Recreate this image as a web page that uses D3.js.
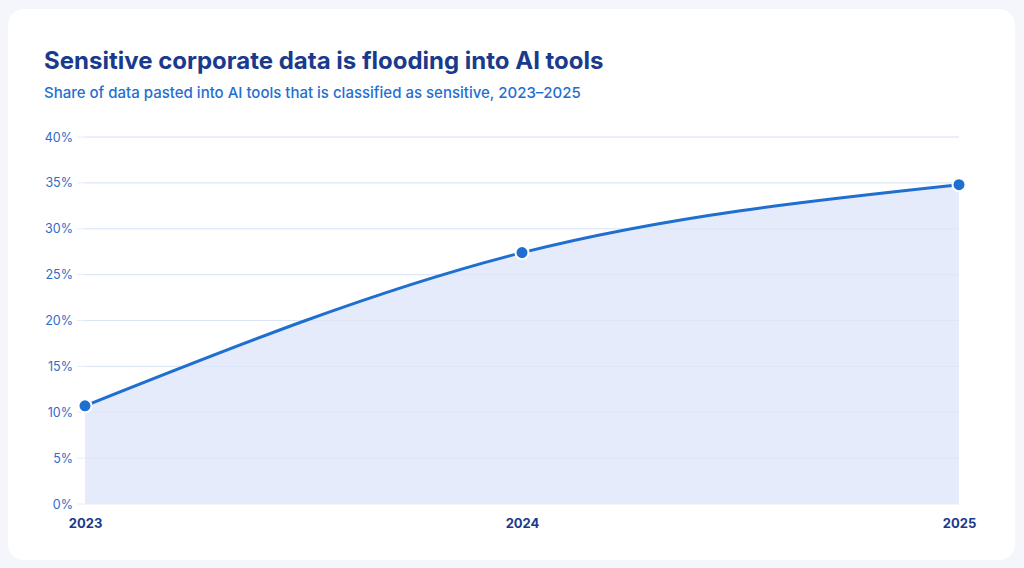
<!DOCTYPE html>
<html><head><meta charset="utf-8">
<script src="https://cdn.jsdelivr.net/npm/d3@7/dist/d3.min.js"></script>
<style>
html,body{margin:0;padding:0;background:#f4f6fb;font-family:Inter,"Noto Sans",sans-serif;}
svg{display:block;}
</style></head><body>
<svg id="c" width="1024" height="568"></svg>
<script>
const years = ["2023","2024","2025"];
const sensitiveShare = [10.7, 27.4, 34.8];
const yTicks = [0,5,10,15,20,25,30,35,40];
const title = "Sensitive corporate data is flooding into AI tools";
const subtitle = "Share of data pasted into AI tools that is classified as sensitive, 2023–2025";

const svg = d3.select("#c");
svg.append("rect").attr("x",8).attr("y",9).attr("width",1007).attr("height",551).attr("rx",16).attr("fill","#ffffff");

svg.append("text").attr("x",44).attr("y",69).text(title)
  .attr("font-size",24).attr("font-weight",700).attr("fill","#1a3a8c");
svg.append("text").attr("x",44).attr("y",98).text(subtitle)
  .attr("font-size",15).attr("font-weight",500).attr("fill","#1f6fd1");

const x = d3.scalePoint().domain(years).range([85,959]);
const y = d3.scaleLinear().domain([0,40]).range([504,137]);

const grid = svg.append("g");
grid.selectAll("line").data(yTicks).join("line")
  .attr("x1",77).attr("x2",959).attr("y1",d=>y(d)).attr("y2",d=>y(d))
  .attr("stroke","#e6ecf8").attr("stroke-width",1);

const yAxis = svg.append("g").attr("transform","translate(77,0)")
  .call(d3.axisLeft(y).tickValues(yTicks).tickSize(0).tickPadding(4).tickFormat(d=>d+"%"));
yAxis.select(".domain").remove();
yAxis.selectAll("text").attr("font-size",12.5).attr("fill","#2e6cc7").attr("font-family","Inter,sans-serif");

const data = years.map((yr,i)=>({yr, v: sensitiveShare[i]}));

const area = d3.area().x(d=>x(d.yr)).y0(y(0)).y1(d=>y(d.v)).curve(d3.curveMonotoneX);
svg.append("path").datum(data).attr("d",area).attr("fill","#e5ebfb");

svg.append("g").selectAll("line").data(yTicks.filter(d=>d>0)).join("line")
  .attr("x1",85).attr("x2",959).attr("y1",d=>y(d)).attr("y2",d=>y(d))
  .attr("stroke","#d6e2f6").attr("stroke-width",1).attr("opacity",0.6);

const line = d3.line().x(d=>x(d.yr)).y(d=>y(d.v)).curve(d3.curveMonotoneX);
svg.append("path").datum(data).attr("d",line).attr("fill","none")
  .attr("stroke","#1f6fd1").attr("stroke-width",3);

svg.append("g").selectAll("circle").data(data).join("circle")
  .attr("cx",d=>x(d.yr)).attr("cy",d=>y(d.v)).attr("r",6.5)
  .attr("fill","#1f6fd1").attr("stroke","#ffffff").attr("stroke-width",2);

const xAxis = svg.append("g").attr("transform","translate(0,504)")
  .call(d3.axisBottom(x).tickSize(0).tickPadding(15));
xAxis.select(".domain").remove();
xAxis.selectAll("text").attr("font-size",13).attr("font-weight",700).attr("fill","#1a3a8c").attr("font-family","Inter,sans-serif");
</script>
</body></html>
